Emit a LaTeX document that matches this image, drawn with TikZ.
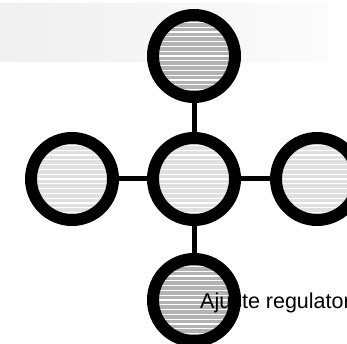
\documentclass[tikz,border=0pt]{standalone}
\usepackage{fontspec}
\setmainfont{Liberation Sans}
\begin{document}
\begin{tikzpicture}[x=1pt, y=-1pt,
        hub/.style={circle, inner sep=0pt, minimum size=82pt, draw=black, line width=12pt, fill=#1,
            path picture={
                \foreach \k in {-9,...,9} {
                    \draw[white, line width=1.1pt] ([yshift=\k*4.8pt]path picture bounding box.west) -- ++(90pt,0);
                }
            }},
        link/.style={draw=black, line width=5pt}]
    \useasboundingbox (0,0) rectangle (347,344);
    \clip (0,0) rectangle (347,344);
    \shade[left color=black!6, right color=black!1.5] (0,4) rectangle (328,62);

    \foreach \name/\x/\y/\tone in {top/194/56/black!30, mid/194/179/black!12, lft/72/179/black!12,
            rgt/317/179/black!12, bot/194/300/black!30} {
            \node[hub=\tone] (\name) at (\x,\y) {};
        }

    \foreach \a/\b in {top/mid, lft/mid, mid/rgt, mid/bot} {
            \draw[link] (\a) -- (\b);
        }

    \node[anchor=base west, inner sep=0pt, font=\fontsize{21.5}{26}\selectfont] (lbl) at (200,308) {Ajuste regulator};
\end{tikzpicture}
\end{document}
